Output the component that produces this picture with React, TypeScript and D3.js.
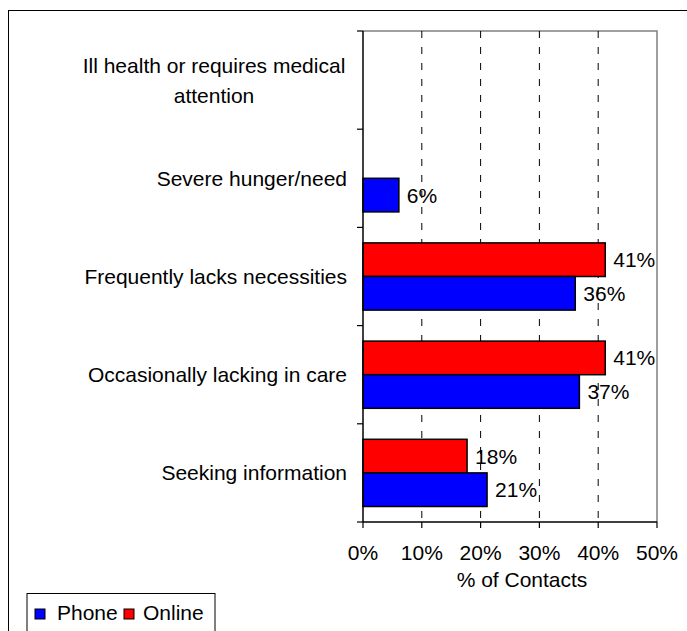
import * as d3 from 'd3';

const categories = [
  'Ill health or requires medical attention',
  'Severe hunger/need',
  'Frequently lacks necessities',
  'Occasionally lacking in care',
  'Seeking information'
];
const phoneValues: (number | null)[] = [null, 6.1, 36.1, 36.8, 21.1];
const onlineValues: (number | null)[] = [null, null, 41.2, 41.2, 17.7];
const seriesNames = ['Online', 'Phone'];
const xTicks = [0, 10, 20, 30, 40, 50];

const FONT = '"Liberation Sans", Arial, sans-serif';
const colors: Record<string, string> = { Phone: '#0000ff', Online: '#ff0000' };

const plot = { left: 363, top: 31, right: 657, bottom: 522 };

export default function App() {
  const x = d3.scaleLinear().domain([0, 50]).range([plot.left, plot.right]);
  const y = d3.scaleBand<string>().domain(categories).range([plot.top, plot.bottom]).padding(0);
  const bw = y.bandwidth();
  const inner = d3.scaleBand<string>().domain(seriesNames).range([15.5, bw - 15.5]).padding(0);

  const rows = categories.map((c, i) => ({
    cat: c,
    values: { Phone: phoneValues[i], Online: onlineValues[i] } as Record<string, number | null>
  }));

  const boundaries = [...categories.map((c) => y(c) as number), plot.bottom];

  return (
    <svg
      width={687}
      height={631}
      style={{ position: 'absolute', left: 0, top: 0, display: 'block', background: '#fff' }}
      fontFamily={FONT}
    >
      <rect x={8.5} y={10.5} width={700} height={640} fill="#fff" stroke="#000" strokeWidth={1} />

      {/* plot frame */}
      <path
        d={`M${plot.left},${plot.top}H${plot.right}V${plot.bottom}`}
        fill="none"
        stroke="#808080"
        strokeWidth={1.5}
      />

      {/* gridlines */}
      {xTicks.slice(1, -1).map((t) => (
        <line
          key={t}
          x1={x(t)}
          x2={x(t)}
          y1={plot.top}
          y2={plot.bottom}
          stroke="#000"
          strokeWidth={1}
          strokeDasharray="7,9"
        />
      ))}

      {/* bars */}
      {rows.map((r) =>
        seriesNames.map((s) => {
          const v = r.values[s];
          if (v == null) return null;
          const by = (y(r.cat) as number) + (inner(s) as number);
          const bh = inner.bandwidth();
          return (
            <g key={r.cat + s}>
              <rect
                x={x(0)}
                y={by}
                width={x(v) - x(0)}
                height={bh}
                fill={colors[s]}
                stroke="#000"
                strokeWidth={1.5}
              />
              <text x={x(v) + 8} y={by + bh / 2} dy="0.36em" fontSize={21} fill="#000">
                {Math.round(v)}%
              </text>
            </g>
          );
        })
      )}

      {/* axes */}
      <line x1={plot.left} x2={plot.left} y1={plot.top} y2={plot.bottom} stroke="#000" strokeWidth={1.5} />
      <line x1={plot.left} x2={plot.right} y1={plot.bottom} y2={plot.bottom} stroke="#000" strokeWidth={1.5} />
      {boundaries.map((b, i) => (
        <line key={i} x1={plot.left - 6} x2={plot.left} y1={b} y2={b} stroke="#000" strokeWidth={1.2} />
      ))}
      {xTicks.map((t) => (
        <g key={t}>
          <line x1={x(t)} x2={x(t)} y1={plot.bottom} y2={plot.bottom + 6} stroke="#000" strokeWidth={1.2} />
          <text x={x(t)} y={560} textAnchor="middle" fontSize={21} fill="#000">
            {t}%
          </text>
        </g>
      ))}
      <text x={522} y={587} textAnchor="middle" fontSize={21} fill="#000">
        % of Contacts
      </text>

      {/* category labels */}
      {categories.map((c, i) => {
        const cy = (y(c) as number) + bw / 2;
        if (i === 0) {
          return (
            <text key={c} x={214} textAnchor="middle" fontSize={21} fill="#000">
              <tspan x={214} y={cy - 15} dy="0.36em">Ill health or requires medical</tspan>
              <tspan x={214} y={cy + 15} dy="0.36em">attention</tspan>
            </text>
          );
        }
        return (
          <text key={c} x={347} y={cy} dy="0.36em" textAnchor="end" fontSize={21} fill="#000">
            {c}
          </text>
        );
      })}

      {/* legend */}
      <rect x={27} y={593.5} width={188} height={50} fill="#fff" stroke="#000" strokeWidth={1} />
      <rect x={35} y={609} width={10} height={10} fill={colors.Phone} stroke="#000" strokeWidth={1} />
      <text x={57} y={619.5} fontSize={21} fill="#000">Phone</text>
      <rect x={124} y={609} width={10} height={10} fill={colors.Online} stroke="#000" strokeWidth={1} />
      <text x={143} y={619.5} fontSize={21} fill="#000">Online</text>
    </svg>
  );
}
